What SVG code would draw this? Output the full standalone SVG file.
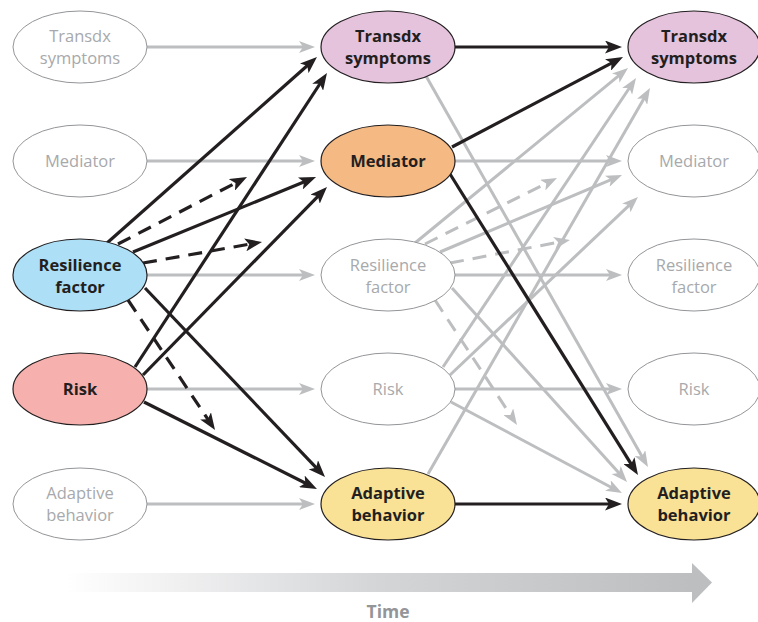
<svg xmlns="http://www.w3.org/2000/svg" width="758" height="622" viewBox="0 0 758 622">
<style>
.g{stroke:#bcbec0;stroke-width:3;fill:none;marker-end:url(#ag)}
.k{stroke:#231f20;stroke-width:3.2;fill:none;marker-end:url(#ak)}
.d{stroke-dasharray:14 9}
.en{fill:#fff;stroke:#939598;stroke-width:1}
.ec{stroke:#231f20;stroke-width:1.2}
.tg{font-family:"Open Sans","Liberation Sans",sans-serif;font-size:16.5px;fill:#a7a9ac;text-anchor:middle}
.tb{font-family:"Open Sans","Liberation Sans",sans-serif;font-size:16.5px;font-weight:bold;fill:#231f20;text-anchor:middle}
</style>
<defs>
<marker id="ak" viewBox="0 0 17 13" refX="11" refY="6.5" markerWidth="17" markerHeight="13" markerUnits="userSpaceOnUse" orient="auto"><path d="M0,0 L17,6.5 L0,13 L4,6.5 Z" fill="#231f20"/></marker>
<marker id="ag" viewBox="0 0 16 12" refX="10" refY="6" markerWidth="16" markerHeight="12" markerUnits="userSpaceOnUse" orient="auto"><path d="M0,0 L16,6 L0,12 L4,6 Z" fill="#bcbec0"/></marker>
<linearGradient id="tg" x1="65" y1="0" x2="692" y2="0" gradientUnits="userSpaceOnUse"><stop offset="0" stop-color="#ffffff"/><stop offset="0.5" stop-color="#d4d5d7"/><stop offset="1" stop-color="#bcbec0"/></linearGradient>
</defs>
<g id="connectors">
<line class="g" x1="147" y1="47" x2="309" y2="47"/>
<line class="g" x1="147" y1="161" x2="309" y2="161"/>
<line class="g" x1="147" y1="275" x2="309" y2="275"/>
<line class="g" x1="147" y1="389" x2="309" y2="389"/>
<line class="g" x1="147" y1="504" x2="309" y2="504"/>
<line class="g" x1="426" y1="76" x2="645" y2="461.8"/>
<line class="g" x1="415" y1="243" x2="623.4" y2="71.8"/>
<line class="g" x1="443" y1="367" x2="632.7" y2="83"/>
<line class="g" x1="428" y1="474" x2="647" y2="93.2"/>
<line class="g" x1="440" y1="252" x2="616.5" y2="177.3"/>
<line class="g" x1="450" y1="375" x2="633.6" y2="201.1"/>
<line class="g" x1="452" y1="288" x2="623" y2="477.5"/>
<line class="g" x1="451" y1="402" x2="616.7" y2="490.2"/>
<line class="g d" x1="425" y1="244" x2="551.6" y2="180.7"/>
<line class="g d" x1="450" y1="263" x2="564.1" y2="241.1"/>
<line class="g d" x1="435" y1="300" x2="513.7" y2="420"/>
<line class="k" x1="455" y1="47" x2="616" y2="47"/>
<line class="g" x1="455" y1="161" x2="616" y2="161"/>
<line class="g" x1="455" y1="275" x2="616" y2="275"/>
<line class="g" x1="455" y1="389" x2="616" y2="389"/>
<line class="k" x1="455" y1="504" x2="616" y2="504"/>
<line class="k" x1="452" y1="147" x2="617.7" y2="59.8"/>
<line class="k" x1="450" y1="174" x2="634.8" y2="469.9"/>
<line class="k" x1="107" y1="243" x2="312.5" y2="61"/>
<line class="k" x1="135" y1="367" x2="323.7" y2="78"/>
<line class="k" x1="133" y1="252" x2="310.5" y2="179.3"/>
<line class="k" x1="143" y1="375" x2="322.8" y2="191.3"/>
<line class="k" x1="145" y1="288" x2="320.9" y2="472.7"/>
<line class="k" x1="144" y1="402" x2="311.6" y2="486.3"/>
<line class="k d" x1="118" y1="244" x2="241.7" y2="179.8"/>
<line class="k d" x1="143" y1="263" x2="256.1" y2="243"/>
<line class="k d" x1="128" y1="300" x2="211.7" y2="425"/>
</g>
<g id="a-transdx"><ellipse class="en" cx="80" cy="47" rx="67" ry="36"/><text class="tg" x="80" y="42">Transdx</text><text class="tg" x="80" y="64">symptoms</text></g>
<g id="a-mediator"><ellipse class="en" cx="80" cy="161" rx="67" ry="36"/><text class="tg" x="80" y="167">Mediator</text></g>
<g id="a-resilience"><ellipse class="ec" fill="#addff6" cx="80" cy="275" rx="67" ry="36"/><text class="tb" x="80" y="271">Resilience</text><text class="tb" x="80" y="293">factor</text></g>
<g id="a-risk"><ellipse class="ec" fill="#f6b1ae" cx="80" cy="389" rx="67" ry="36"/><text class="tb" x="80" y="395">Risk</text></g>
<g id="a-adaptive"><ellipse class="en" cx="80" cy="504" rx="67" ry="36"/><text class="tg" x="80" y="499">Adaptive</text><text class="tg" x="80" y="521">behavior</text></g>

<g id="b-transdx"><ellipse class="ec" fill="#e5c3dd" cx="388" cy="47" rx="67" ry="36"/><text class="tb" x="388" y="42">Transdx</text><text class="tb" x="388" y="64">symptoms</text></g>
<g id="b-mediator"><ellipse class="ec" fill="#f5b983" cx="388" cy="161" rx="67" ry="36"/><text class="tb" x="388" y="167">Mediator</text></g>
<g id="b-resilience"><ellipse class="en" cx="388" cy="275" rx="67" ry="36"/><text class="tg" x="388" y="271">Resilience</text><text class="tg" x="388" y="293">factor</text></g>
<g id="b-risk"><ellipse class="en" cx="388" cy="389" rx="67" ry="36"/><text class="tg" x="388" y="395">Risk</text></g>
<g id="b-adaptive"><ellipse class="ec" fill="#f9e196" cx="388" cy="504" rx="67" ry="36"/><text class="tb" x="388" y="499">Adaptive</text><text class="tb" x="388" y="521">behavior</text></g>

<g id="c-transdx"><ellipse class="ec" fill="#e5c3dd" cx="694" cy="47" rx="66" ry="36"/><text class="tb" x="694" y="42">Transdx</text><text class="tb" x="694" y="64">symptoms</text></g>
<g id="c-mediator"><ellipse class="en" cx="694" cy="161" rx="66" ry="36"/><text class="tg" x="694" y="167">Mediator</text></g>
<g id="c-resilience"><ellipse class="en" cx="694" cy="275" rx="66" ry="36"/><text class="tg" x="694" y="271">Resilience</text><text class="tg" x="694" y="293">factor</text></g>
<g id="c-risk"><ellipse class="en" cx="694" cy="389" rx="66" ry="36"/><text class="tg" x="694" y="395">Risk</text></g>
<g id="c-adaptive"><ellipse class="ec" fill="#f9e196" cx="694" cy="504" rx="66" ry="36"/><text class="tb" x="694" y="499">Adaptive</text><text class="tb" x="694" y="521">behavior</text></g>

<g id="time-axis">
<rect x="65" y="573" width="628" height="19" fill="url(#tg)"/>
<polygon points="692,563 712,582.5 692,603" fill="#bcbec0"/>
<text x="388" y="618" font-family="'Open Sans','Liberation Sans',sans-serif" font-size="17.5" font-weight="bold" fill="#939598" text-anchor="middle">Time</text>
</g>
</svg>
